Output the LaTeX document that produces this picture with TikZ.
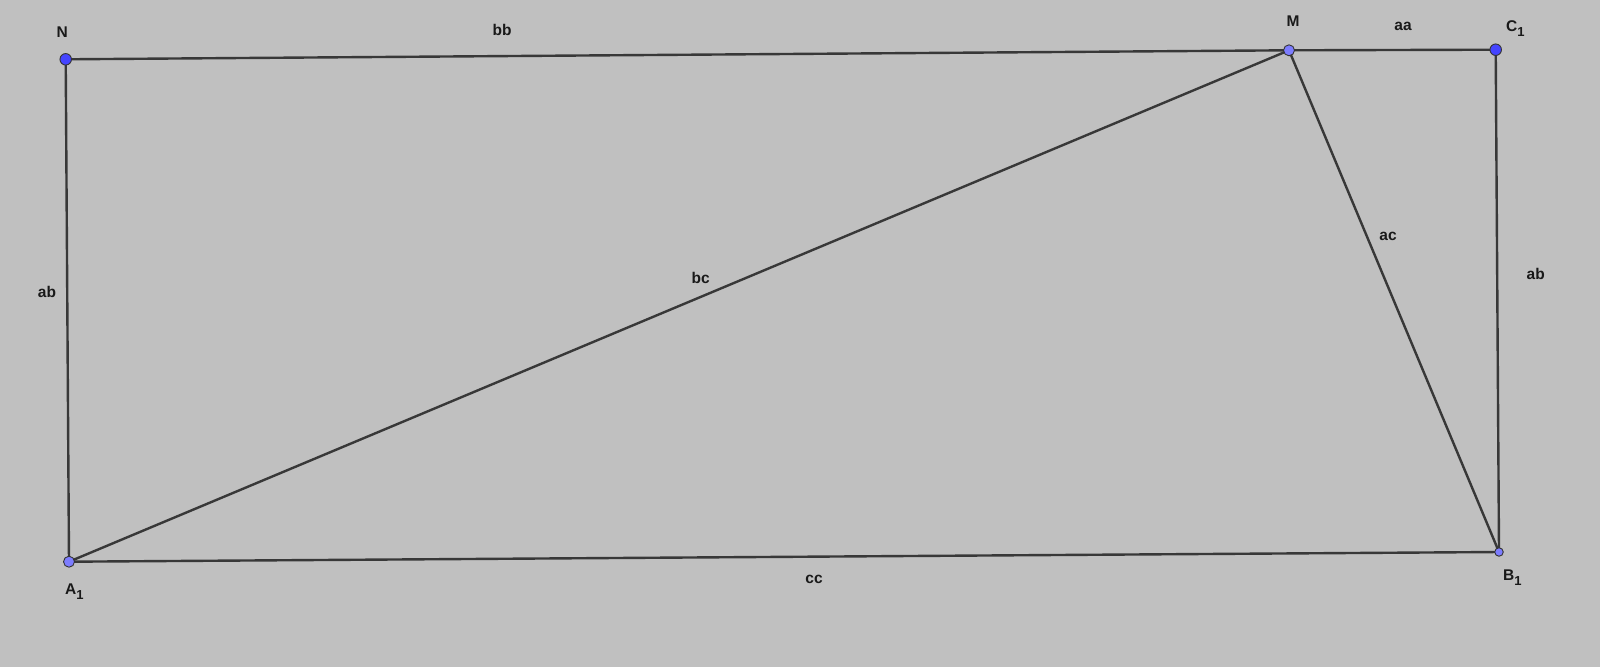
\documentclass[tikz,border=0pt]{standalone}
\usepackage{fontspec}
\setmainfont{Liberation Sans}
\newcommand{\subone}{\raisebox{-5pt}{\fontsize{13}{15}\selectfont 1}}
\begin{document}
\begin{tikzpicture}[x=1pt,y=-1pt,
  seg/.style={draw=black!78,line width=2.4pt},
  ptdark/.style={circle,fill={rgb,255:red,68;green,68;blue,255},draw=black!80,line width=0.9pt,inner sep=0pt,minimum size=11.5pt},
  ptlight/.style={circle,fill={rgb,255:red,125;green,125;blue,255},draw=black!80,line width=0.9pt,inner sep=0pt,minimum size=11pt},
  ptsmall/.style={ptlight,minimum size=8.5pt},
  lbl/.style={font=\bfseries\fontsize{15.5}{18}\selectfont,inner sep=0pt,text=black!90}]
\fill[fill={rgb,255:red,192;green,192;blue,192}] (0,0) rectangle (1600,667);
\useasboundingbox (0,0) rectangle (1600,667);
\coordinate (N) at (65.7,59.3);
\coordinate (M) at (1289,50.3);
\coordinate (C) at (1495.7,49.7);
\coordinate (A) at (69,561.7);
\coordinate (B) at (1499,552);
\draw[seg] (N) -- (M) -- (C) -- (B) -- (A) -- (N);
\draw[seg] (A) -- (M) -- (B);
\node[ptdark] (nN) at (N) {};
\node[ptdark] (nC) at (C) {};
\node[ptlight] (nM) at (M) {};
\node[ptlight] (nA) at (A) {};
\node[ptsmall] (nB) at (B) {};
\node[lbl] (lN) at (62.3,32.3) {N};
\node[lbl] (lM) at (1293,20.7) {M};
\node[lbl,anchor=base west] (lC) at (1506,31) {C\subone};
\node[lbl,anchor=base west] (lA) at (65,594) {A\subone};
\node[lbl,anchor=base west] (lB) at (1503,580) {B\subone};
\node[lbl] (lbb) at (502,29.6) {bb};
\node[lbl] (laa) at (1403,26.7) {aa};
\node[lbl] (lab1) at (47,292) {ab};
\node[lbl] (lbc) at (700.7,278) {bc};
\node[lbl] (lac) at (1388,236.7) {ac};
\node[lbl] (lab2) at (1535.7,274) {ab};
\node[lbl] (lcc) at (814,579.6) {cc};
\end{tikzpicture}
\end{document}
